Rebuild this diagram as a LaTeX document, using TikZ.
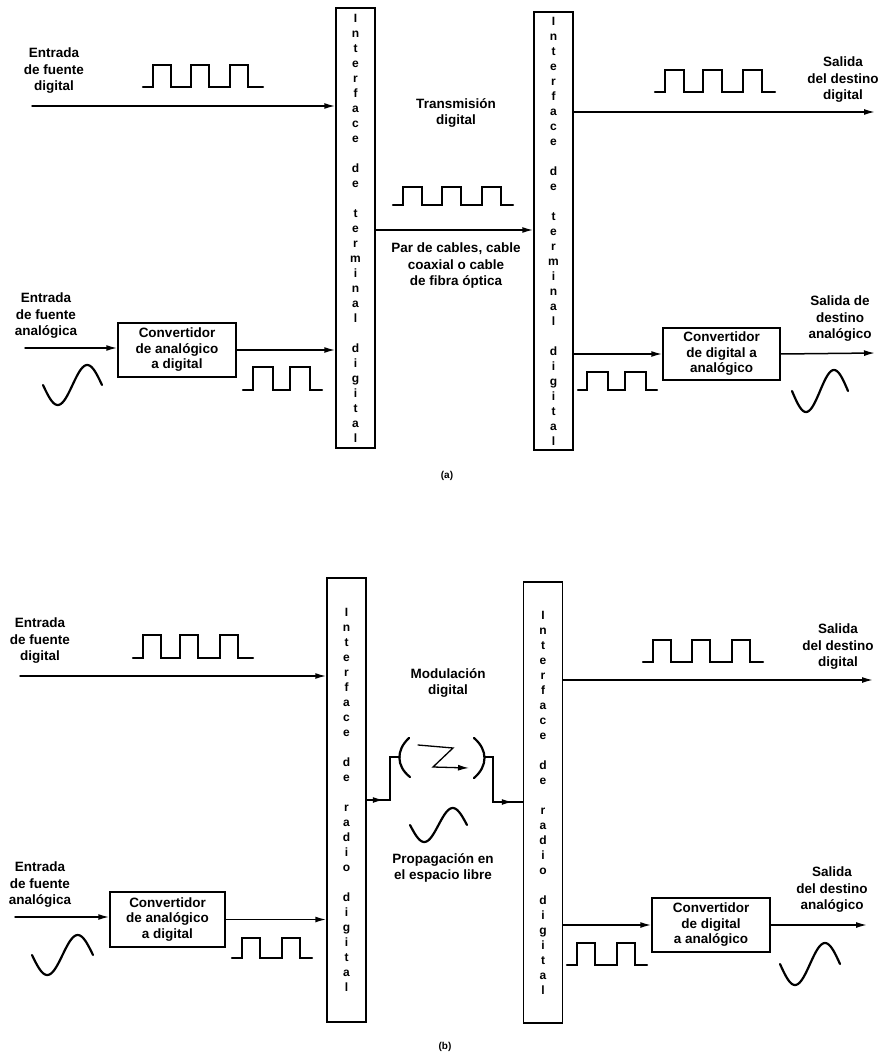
\documentclass[tikz,border=0pt]{standalone}
\usepackage{fontspec}
\setmainfont{Liberation Sans}
\usetikzlibrary{arrows.meta,positioning,decorations.markings}

\tikzset{
 ifbar/.style={draw,line width=1.5pt,minimum width=39pt,minimum height=440pt,
  inner sep=0pt,align=center,font=\bfseries\fontsize{12}{15}\selectfont},
 conv/.style={draw,line width=1.5pt,align=center,inner sep=0pt,
  font=\bfseries\fontsize{13.5}{15.5}\selectfont},
 lbl/.style={align=center,inner sep=0pt,font=\bfseries\fontsize{13.5}{16.5}\selectfont},
 conn/.style={->,line width=1.5pt},
 wave/.style={line width=2.2pt,line join=miter},
 midarrow/.style={decoration={markings,
  mark=at position #1 with {\arrow{Latex[length=11pt,width=6pt]}}},postaction={decorate}},
}

\begin{document}
\begin{tikzpicture}[x=1pt,y=-1pt,>={Latex[length=11pt,width=6pt]},line cap=round]
 \useasboundingbox (0,0) rectangle (878,1056);

 % (a) terminal digital
 \node[ifbar] (ifA1) at (355.5,228)
  {I\\n\\t\\e\\r\\f\\a\\c\\e\\[15pt]d\\e\\[15pt]t\\e\\r\\m\\i\\n\\a\\l\\[15pt]d\\i\\g\\i\\t\\a\\l};
 \node[ifbar,minimum height=438pt] (ifA2) at (553.5,231)
  {I\\n\\t\\e\\r\\f\\a\\c\\e\\[15pt]d\\e\\[15pt]t\\e\\r\\m\\i\\n\\a\\l\\[15pt]d\\i\\g\\i\\t\\a\\l};
 \node[conv,minimum width=118pt,minimum height=54pt] (adcA) at (177,350)
  {Convertidor\\de analógico\\a digital};
 \node[conv,minimum width=117pt,minimum height=52pt] (dacA) at (721.5,354)
  {Convertidor\\de digital a\\analógico};

 \node[lbl] (srcAd) at (54,71) {Entrada\\de fuente\\digital};
 \node[lbl] (srcAa) at (46,316) {Entrada\\de fuente\\analógica};
 \node[lbl] (txA) at (456,113) {Transmisión\\digital};
 \node[lbl] (medA) at (456,266) {Par de cables, cable\\coaxial o cable\\de fibra óptica};
 \node[lbl] (dstAd) at (843,80) {Salida\\del destino\\digital};
 \node[lbl] (dstAa) at (840,319) {Salida de\\destino\\analógico};
 \node[font=\bfseries\fontsize{10}{12}\selectfont] (capA) at (447,476) {(a)};

 \coordinate (inAd) at (32,106);
 \coordinate (inAa) at (25,348);
 \coordinate (lnkA) at (0,230);
 \coordinate (outAd) at (875,112);
 \coordinate (outAa) at (875,353);
 \draw[conn] (inAd) -- (inAd -| ifA1.west);
 \draw[conn] (inAa) -- (inAa -| adcA.west);
 \draw[conn] (adcA.east) -- (adcA.east -| ifA1.west);
 \draw[conn] (lnkA -| ifA1.east) -- (lnkA -| ifA2.west);
 \draw[conn] (outAd -| ifA2.east) -- (outAd);
 \draw[conn] (dacA.west -| ifA2.east) -- (dacA.west);
 \draw[conn] (dacA.east) -- (outAa);

 \draw[wave] (143,87) \foreach \x in {153,191,230}{ -- (\x,87) -- (\x,65) -- (\x+18,65) -- (\x+18,87)} -- (263,87);
 \draw[wave] (393,205) \foreach \x in {403,442,482}{ -- (\x,205) -- (\x,187) -- (\x+19,187) -- (\x+19,205)} -- (513,205);
 \draw[wave] (655,92) \foreach \x in {665,703,743}{ -- (\x,92) -- (\x,70) -- (\x+19,70) -- (\x+19,92)} -- (775,92);
 \draw[wave] (243,390) \foreach \x in {253,290}{ -- (\x,390) -- (\x,367) -- (\x+20,367) -- (\x+20,390)} -- (322,390);
 \draw[wave] (578,390) \foreach \x in {587,625}{ -- (\x,390) -- (\x,372) -- (\x+21,372) -- (\x+21,390)} -- (657,390);
 \draw[wave] plot[domain=0:360,samples=49,smooth] ({43+\x/360*59},{385+20*sin(\x)});
 \draw[wave] plot[domain=0:360,samples=49,smooth] ({792+\x/360*56},{391+21*sin(\x)});

 % (b) radio digital
 \node[ifbar,minimum height=444pt] (ifB1) at (346.5,800)
  {I\\n\\t\\e\\r\\f\\a\\c\\e\\[15pt]d\\e\\[15pt]r\\a\\d\\i\\o\\[15pt]d\\i\\g\\i\\t\\a\\l};
 \node[ifbar,minimum height=441pt] (ifB2) at (543,802.5)
  {I\\n\\t\\e\\r\\f\\a\\c\\e\\[15pt]d\\e\\[15pt]r\\a\\d\\i\\o\\[15pt]d\\i\\g\\i\\t\\a\\l};
 \node[conv,minimum width=115pt,minimum height=55pt] (adcB) at (167.5,919.5)
  {Convertidor\\de analógico\\a digital};
 \node[conv,minimum width=118pt,minimum height=54pt] (dacB) at (711,925)
  {Convertidor\\de digital\\a analógico};

 \node[lbl] (srcBd) at (40,641) {Entrada\\de fuente\\digital};
 \node[lbl] (srcBa) at (40,885) {Entrada\\de fuente\\analógica};
 \node[lbl] (modB) at (448,683) {Modulación\\digital};
 \node[lbl] (propB) at (443,868) {Propagación en\\el espacio libre};
 \node[lbl] (dstBd) at (838,647) {Salida\\del destino\\digital};
 \node[lbl] (dstBa) at (832,890) {Salida\\del destino\\analógico};
 \node[font=\bfseries\fontsize{10}{12}\selectfont] (capB) at (445,1047) {(b)};

 \coordinate (inBd) at (20,676);
 \coordinate (inBa) at (15,917);
 \coordinate (outBd) at (873,680);
 \coordinate (outBa) at (867,925);
 \draw[conn] (inBd) -- (inBd -| ifB1.west);
 \draw[conn] (inBa) -- (inBa -| adcB.west);
 \draw[conn] (adcB.east) -- (adcB.east -| ifB1.west);
 \draw[conn] (outBd -| ifB2.east) -- (outBd);
 \draw[conn] (dacB.west -| ifB2.east) -- (dacB.west);
 \draw[conn] (dacB.east) -- (outBa);

 % antenas
 \coordinate (txB) at (400,757);
 \coordinate (rxB) at (485,757);
 \coordinate (txB0) at (390,800);
 \coordinate (rxB0) at (493,802);
 \draw[line width=1.5pt,midarrow=17pt] (txB0 -| ifB1.east) -- (txB0) |- (txB);
 \draw[line width=1.5pt,midarrow=-10pt] (rxB) -| (rxB0) -- (rxB0 -| ifB2.west);
 \draw[line width=2.2pt] (409,738) .. controls (396,750) and (396,766) .. (410,777);
 \draw[line width=2.2pt] (474,738) .. controls (488,750) and (488,766) .. (474,778);
 \draw[->,line width=1.3pt] (418,745) -- (453,748) -- (433,767) -- (469,768);

 \draw[wave] (133,658) \foreach \x in {143,180,220}{ -- (\x,658) -- (\x,635) -- (\x+18,635) -- (\x+18,658)} -- (253,658);
 \draw[wave] (643,662) \foreach \x in {653,692,732}{ -- (\x,662) -- (\x,640) -- (\x+18,640) -- (\x+18,662)} -- (763,662);
 \draw[wave] (232,958) \foreach \x in {242,282}{ -- (\x,958) -- (\x,938) -- (\x+18,938) -- (\x+18,958)} -- (312,958);
 \draw[wave] (567,965) \foreach \x in {577,617}{ -- (\x,965) -- (\x,943) -- (\x+18,943) -- (\x+18,965)} -- (647,965);
 \draw[wave] plot[domain=0:360,samples=49,smooth] ({32+\x/360*61},{955+20*sin(\x)});
 \draw[wave] plot[domain=0:360,samples=49,smooth] ({410+\x/360*57},{825+17*sin(\x)});
 \draw[wave] plot[domain=0:360,samples=49,smooth] ({780+\x/360*60},{964+21*sin(\x)});
\end{tikzpicture}
\end{document}
